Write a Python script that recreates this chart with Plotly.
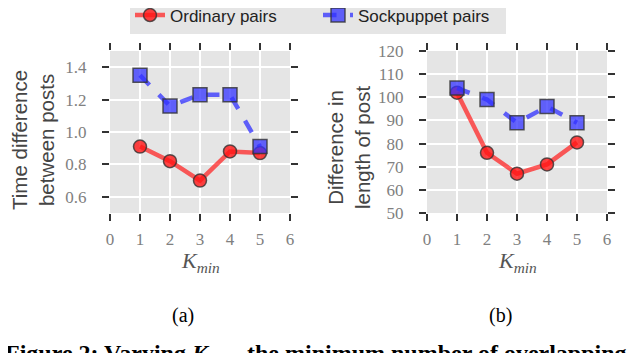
import plotly.graph_objects as go
from plotly.subplots import make_subplots

k_values = [1, 2, 3, 4, 5]
time_ordinary = [0.91, 0.82, 0.70, 0.88, 0.87]
time_sockpuppet = [1.35, 1.16, 1.23, 1.23, 0.91]
length_ordinary = [102, 76, 67, 71, 80.5]
length_sockpuppet = [104, 99, 89, 96, 89]

x_ticks = [0, 1, 2, 3, 4, 5, 6]
time_ticks = [0.6, 0.8, 1.0, 1.2, 1.4]
length_ticks = [50, 60, 70, 80, 90, 100, 110, 120]

W, H = 640, 353
OFF = 8  # page body margin offset

def fx(x):
    return (x - OFF) / W

def fy(y):
    return 1 - (y - OFF) / H

red_line = "rgba(255,30,30,0.72)"
red_fill = "rgba(255,20,20,0.8)"
blue_line = "rgba(40,40,255,0.72)"
blue_fill = "rgba(50,50,255,0.75)"
edge = "rgba(50,50,50,0.8)"

fig = make_subplots(rows=1, cols=2)

def add_pair(col, ordv, sockv, show):
    fig.add_trace(go.Scatter(
        x=k_values, y=ordv, mode="lines+markers", name="Ordinary pairs",
        line=dict(color=red_line, width=4.5),
        marker=dict(symbol="circle", size=13, color=red_fill, line=dict(color=edge, width=1.5)),
        showlegend=show), row=1, col=col)
    fig.add_trace(go.Scatter(
        x=k_values, y=sockv, mode="lines+markers", name="Sockpuppet pairs",
        line=dict(color=blue_line, width=4.5, dash="dash"),
        marker=dict(symbol="square", size=14, color=blue_fill, line=dict(color=edge, width=1.5)),
        showlegend=show), row=1, col=col)

add_pair(1, time_ordinary, time_sockpuppet, True)
add_pair(2, length_ordinary, length_sockpuppet, False)

tickfont = dict(family="Liberation Serif, serif", size=17, color="#808080")
common_axis = dict(showgrid=True, gridcolor="white", gridwidth=1.5, zeroline=False,
                   ticks="outside", ticklen=7, tickwidth=1.5, tickcolor="#333",
                   mirror="ticks", showline=False, tickfont=tickfont)

fig.update_xaxes(range=[0, 6], tickvals=x_ticks, ticklabelstandoff=4, **common_axis)
fig.update_xaxes(domain=[fx(110), fx(290)], row=1, col=1)
fig.update_xaxes(domain=[fx(427), fx(607)], row=1, col=2)
fig.update_yaxes(domain=[fy(213), fy(51)], ticklabelstandoff=12, **common_axis)
fig.update_yaxes(range=[0.5, 1.5], tickvals=time_ticks,
                 ticktext=[f"{v:.1f}" for v in time_ticks], row=1, col=1)
fig.update_yaxes(range=[50, 120], tickvals=length_ticks, row=1, col=2)

anns = []
def px_ann(x, y, text, font, angle=0, xanchor="center", yanchor="middle"):
    anns.append(dict(x=fx(x), y=fy(y), xref="paper", yref="paper", text=text,
                     showarrow=False, font=font, textangle=angle,
                     xanchor=xanchor, yanchor=yanchor))

title_font = dict(family="Liberation Sans, sans-serif", size=20.5, color="#454545")
px_ann(33, 140, "Time difference<br>between posts", title_font, angle=-90)
px_ann(349, 148, "Difference in<br>length of post", title_font, angle=-90)

kfont = dict(family="Liberation Serif, serif", size=22, color="#555")
px_ann(200, 262, "<i>K</i><sub><i>min</i></sub>", kfont)
px_ann(517, 262, "<i>K</i><sub><i>min</i></sub>", kfont)

sub_font = dict(family="Liberation Serif, serif", size=20, color="black")
px_ann(183, 315, "(a)", sub_font)
px_ann(500, 315, "(b)", sub_font)

cap_font = dict(family="Liberation Serif, serif", size=24, color="black")
px_ann(3, 338, "<b>Figure 2: Varying <i>K</i><sub><i>min</i></sub>, the minimum number of overlapping</b>",
       cap_font, xanchor="left", yanchor="top")

fig.update_layout(
    width=W, height=H,
    margin=dict(l=0, r=0, t=0, b=0, autoexpand=False),
    plot_bgcolor="#e5e5e5", paper_bgcolor="white",
    annotations=anns,
    legend=dict(orientation="h", x=fx(130), y=fy(-2.5), xanchor="left", yanchor="top",
                bgcolor="#e5e5e5", font=dict(family="Liberation Sans, sans-serif", size=17, color="#222"),
                entrywidth=143, itemwidth=30, borderwidth=0),
)

fig.write_html("out.html")
